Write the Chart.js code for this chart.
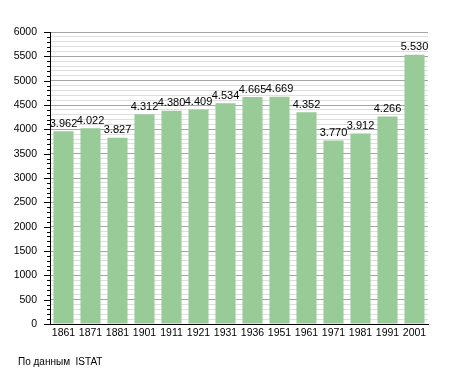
<!DOCTYPE html>
<html>
<head>
<meta charset="utf-8">
<script src="https://cdn.jsdelivr.net/npm/chart.js@4/dist/chart.umd.min.js"></script>
<style>
  html, body { margin: 0; padding: 0; background: #fff; }
  #wrap { position: relative; width: 455px; height: 373px; }
  #source { position: absolute; left: 18px; top: 356px; font: 10px "Liberation Sans", Arial, sans-serif; color: #000; white-space: pre; }
</style>
</head>
<body>
<div id="wrap">
  <canvas id="chart" width="455" height="373"></canvas>
  <div id="source">По данным  ISTAT</div>
</div>
<script>
  const years = ['1861', '1871', '1881', '1901', '1911', '1921', '1931', '1936', '1951', '1961', '1971', '1981', '1991', '2001'];
  const population = [3962, 4022, 3827, 4312, 4380, 4409, 4534, 4665, 4669, 4352, 3770, 3912, 4266, 5530];
  const yMax = 6000;
  const majorStep = 500;
  const minorStep = 100;

  const FONT = '"Liberation Sans", Arial, sans-serif';
  const fmt = (n) => String(n).replace(/\B(?=(\d{3})+(?!\d))/g, '.');

  // values on top of bars
  const barLabels = {
    id: 'barLabels',
    afterDatasetsDraw(chart) {
      const ctx = chart.ctx;
      const meta = chart.getDatasetMeta(0);
      ctx.save();
      ctx.font = '11px ' + FONT;
      ctx.fillStyle = '#000';
      ctx.textAlign = 'center';
      ctx.textBaseline = 'bottom';
      meta.data.forEach((bar, i) => {
        ctx.fillText(fmt(population[i]), bar.x, bar.y - 2);
      });
      ctx.restore();
    }
  };

  // tick marks on the y axis: long for labelled ones, short for the rest
  const yTicks = {
    id: 'yTicks',
    afterDraw(chart) {
      const ctx = chart.ctx;
      const y = chart.scales.y;
      const x0 = chart.chartArea.left;
      ctx.save();
      ctx.strokeStyle = '#000';
      ctx.lineWidth = 1;
      y.ticks.forEach((t) => {
        const py = Math.round(y.getPixelForValue(t.value)) + 0.5;
        const len = t.value % majorStep === 0 ? 6 : 3;
        ctx.beginPath();
        ctx.moveTo(x0 - len, py);
        ctx.lineTo(x0, py);
        ctx.stroke();
      });
      ctx.restore();
    }
  };

  new Chart(document.getElementById('chart'), {
    type: 'bar',
    data: {
      labels: years,
      datasets: [{
        data: population,
        backgroundColor: '#99cb98',
        borderWidth: 0,
        barPercentage: 0.8,
        categoryPercentage: 0.93
      }]
    },
    options: {
      responsive: false,
      animation: false,
      layout: { padding: { top: 32, right: 27, left: 0, bottom: 0 } },
      plugins: { legend: { display: false }, tooltip: { enabled: false } },
      scales: {
        x: {
          grid: { display: false, drawTicks: false },
          border: { display: true, color: '#000', width: 1 },
          ticks: { color: '#000', font: { family: FONT, size: 10.5 }, padding: 3, maxRotation: 0, autoSkip: false },
          afterFit: (s) => { s.height = 49; }
        },
        y: {
          min: 0,
          max: yMax,
          grid: {
            drawTicks: false,
            color: (c) => (c.tick && c.tick.value % majorStep === 0 ? '#a5a5a5' : '#dedede')
          },
          border: { display: true, color: '#000', width: 1 },
          ticks: {
            stepSize: minorStep,
            color: '#000',
            font: { family: FONT, size: 10.5 },
            padding: 13,
            autoSkip: false,
            callback: (v) => (v % majorStep === 0 ? String(v) : '')
          },
          afterFit: (s) => { s.width = 50; }
        }
      }
    },
    plugins: [barLabels, yTicks]
  });
</script>
</body>
</html>
